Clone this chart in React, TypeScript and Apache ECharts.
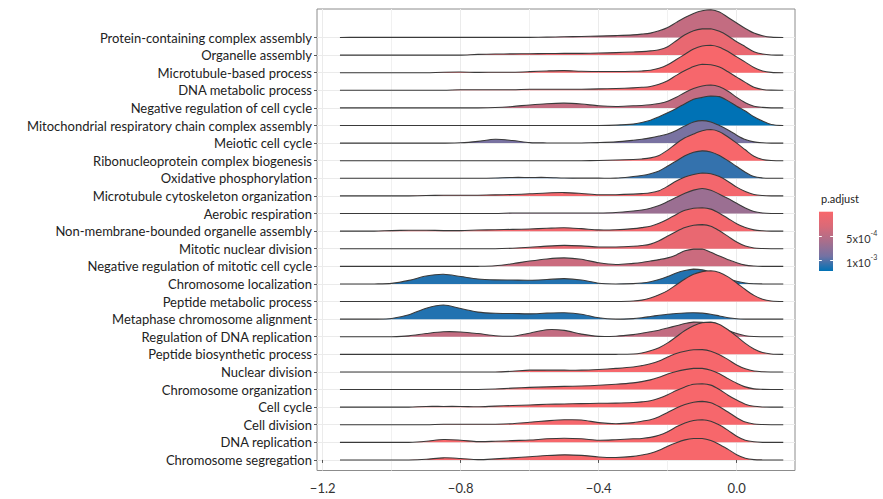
import React, { useEffect, useRef } from 'react';
import * as echarts from 'echarts';

// Categories, bottom row first (index = ridge baseline on the y scale)
const categories = [
  'Chromosome segregation',
  'DNA replication',
  'Cell division',
  'Cell cycle',
  'Chromosome organization',
  'Nuclear division',
  'Peptide biosynthetic process',
  'Regulation of DNA replication',
  'Metaphase chromosome alignment',
  'Peptide metabolic process',
  'Chromosome localization',
  'Negative regulation of mitotic cell cycle',
  'Mitotic nuclear division',
  'Non-membrane-bounded organelle assembly',
  'Aerobic respiration',
  'Microtubule cytoskeleton organization',
  'Oxidative phosphorylation',
  'Ribonucleoprotein complex biogenesis',
  'Meiotic cell cycle',
  'Mitochondrial respiratory chain complex assembly',
  'Negative regulation of cell cycle',
  'DNA metabolic process',
  'Microtubule-based process',
  'Organelle assembly',
  'Protein-containing complex assembly',
];

// adjusted p-value per category (same order)
const pAdjust = [
  1e-5, 1e-5, 2e-5, 1e-5, 1e-5, 2e-5, 1e-5, 4.5e-4, 1.15e-3, 1e-5, 1.15e-3, 4e-4, 1.5e-4,
  5e-5, 7e-4, 5e-5, 1.1e-3, 1e-5, 9e-4, 1.24e-3, 4.5e-4, 2e-5, 1e-5, 1.5e-4, 4.5e-4,
];

// x positions (log fold change) at which ridge heights were read
const xGrid = [
  -1.15, -1.1, -1.05, -1.0, -0.95, -0.9, -0.85, -0.8, -0.75, -0.7, -0.65, -0.6, -0.55, -0.5,
  -0.45, -0.4, -0.35, -0.3, -0.275, -0.25, -0.225, -0.2, -0.175, -0.15, -0.125, -0.1, -0.075,
  -0.05, -0.025, 0, 0.025, 0.05, 0.075, 0.1, 0.135,
];

// ridge heights (in row units) at xGrid, one array per category
const hChrSegregation = [0,0,0,0,0,0.04,0.12,0.08,0.02,0.06,0.12,0.18,0.25,0.29,0.26,0.17,0.14,0.2,0.28,0.38,0.55,0.78,0.98,1.14,1.22,1.22,1.1,0.88,0.6,0.3,0.1,0.02,0,0,0];
const hDnaReplication = [0,0,0,0,0,0.06,0.16,0.12,0.04,0.06,0.1,0.13,0.2,0.23,0.2,0.12,0.15,0.2,0.22,0.28,0.4,0.6,0.88,1.1,1.24,1.28,1.2,0.98,0.68,0.35,0.12,0.03,0,0,0];
const hCellDivision = [0,0,0,0,0,0,0.03,0.03,0.03,0.03,0.06,0.14,0.22,0.28,0.27,0.12,0.06,0.12,0.2,0.28,0.45,0.7,0.95,1.15,1.28,1.33,1.25,1.02,0.72,0.4,0.15,0.04,0.01,0,0];
const hCellCycle = [0,0,0,0,0,0.04,0.04,0.04,0.02,0.06,0.09,0.12,0.16,0.18,0.2,0.22,0.23,0.26,0.3,0.36,0.5,0.7,0.95,1.15,1.3,1.33,1.25,1.0,0.68,0.4,0.17,0.05,0.01,0,0];
const hChrOrganization = [0,0,0,0,0,0,0,0,0,0.03,0.08,0.12,0.15,0.18,0.2,0.24,0.3,0.38,0.45,0.55,0.7,0.88,1.02,1.13,1.2,1.2,1.1,0.9,0.62,0.36,0.15,0.04,0.01,0,0];
const hNuclearDivision = [0,0,0,0,0,0,0,0,0,0,0.04,0.1,0.1,0.1,0.1,0.14,0.2,0.28,0.36,0.46,0.62,0.85,1.05,1.18,1.26,1.27,1.18,0.98,0.7,0.4,0.18,0.05,0.01,0,0];
const hPeptideBiosynthetic = [0,0,0,0,0,0,0,0,0,0,0,0,0,0,0,0,0,0.02,0.08,0.2,0.38,0.65,1.0,1.35,1.62,1.8,1.83,1.7,1.4,1.02,0.62,0.3,0.1,0.02,0];
const hRegDnaReplication = [0,0,0,0,0.05,0.18,0.28,0.27,0.18,0.06,0.03,0.2,0.4,0.36,0.15,0.02,0.03,0.12,0.2,0.28,0.37,0.5,0.62,0.75,0.83,0.82,0.72,0.55,0.35,0.18,0.06,0.01,0,0,0];
const hMetaphaseAlignment = [0,0,0,0.04,0.25,0.62,0.8,0.6,0.4,0.33,0.32,0.3,0.34,0.36,0.28,0.08,0,0.03,0.08,0.15,0.22,0.28,0.32,0.35,0.36,0.34,0.28,0.18,0.08,0.02,0,0,0,0,0];
const hPeptideMetabolic = [0,0,0,0,0,0,0,0,0,0,0,0,0,0,0,0,0,0.03,0.08,0.2,0.38,0.62,0.95,1.28,1.55,1.7,1.75,1.65,1.4,1.05,0.68,0.35,0.13,0.03,0];
const hChrLocalization = [0,0,0,0.03,0.2,0.45,0.55,0.42,0.28,0.23,0.22,0.21,0.25,0.3,0.22,0.04,0,0.02,0.05,0.12,0.25,0.42,0.62,0.76,0.84,0.8,0.66,0.48,0.3,0.15,0.05,0.01,0,0,0];
const hNegRegMitotic = [0,0,0,0,0,0,0,0,0,0.03,0.15,0.3,0.42,0.48,0.4,0.2,0.1,0.17,0.22,0.3,0.38,0.48,0.65,0.88,0.98,0.98,0.8,0.58,0.38,0.2,0.07,0.02,0,0,0];
const hMitoticNuclear = [0,0,0,0,0,0,0,0,0,0,0.03,0.08,0.15,0.19,0.16,0.1,0.1,0.14,0.18,0.26,0.45,0.72,0.98,1.2,1.33,1.37,1.28,1.02,0.7,0.38,0.15,0.04,0.01,0,0];
const hNonMembrane = [0,0,0,0.03,0.05,0.05,0.03,0.03,0.06,0.08,0.1,0.12,0.16,0.19,0.14,0.07,0.08,0.14,0.2,0.28,0.45,0.68,0.95,1.18,1.3,1.33,1.25,1.02,0.72,0.42,0.2,0.07,0.02,0,0];
const hAerobic = [0,0,0,0,0,0,0,0,0,0,0.03,0.03,0.03,0.03,0.03,0.03,0.06,0.14,0.2,0.3,0.45,0.68,0.92,1.15,1.33,1.42,1.32,1.1,0.85,0.58,0.32,0.12,0.03,0,0];
const hMicrotubuleCytoskeleton = [0,0,0,0,0,0.02,0.04,0.04,0.04,0.06,0.08,0.12,0.17,0.19,0.14,0.07,0.07,0.1,0.13,0.18,0.3,0.55,0.85,1.08,1.22,1.3,1.26,1.1,0.82,0.5,0.25,0.08,0.02,0,0];
const hOxidativePhos = [0,0,0,0,0,0,0,0,0,0.02,0.05,0.05,0.05,0.02,0.01,0.01,0.01,0.1,0.16,0.26,0.42,0.7,0.98,1.28,1.48,1.56,1.5,1.3,1.0,0.67,0.35,0.1,0.02,0,0];
const hRibonucleoprotein = [0,0,0,0,0,0,0,0,0,0,0,0,0,0,0,0.01,0.04,0.07,0.1,0.16,0.3,0.6,0.98,1.3,1.52,1.7,1.77,1.65,1.35,1.0,0.62,0.25,0.07,0.01,0];
const hMeiotic = [0,0,0,0,0,0,0,0.02,0.1,0.22,0.15,0.03,0.01,0.01,0.01,0.03,0.07,0.16,0.22,0.3,0.4,0.52,0.72,0.98,1.2,1.28,1.2,1.0,0.75,0.45,0.2,0.07,0.02,0,0];
const hMitochondrialChain = [0,0,0,0,0,0,0,0,0,0,0,0,0,0,0,0,0.02,0.08,0.17,0.3,0.5,0.72,0.97,1.24,1.49,1.6,1.68,1.64,1.4,1.1,0.82,0.5,0.25,0.06,0];
const hNegRegCellCycle = [0,0,0,0,0,0,0,0,0,0.02,0.08,0.17,0.24,0.27,0.22,0.12,0.08,0.12,0.14,0.18,0.25,0.38,0.6,0.88,1.1,1.25,1.3,1.2,0.95,0.6,0.3,0.1,0.03,0,0];
const hDnaMetabolic = [0,0,0,0,0,0,0,0.03,0.03,0.03,0.03,0.06,0.06,0.06,0.06,0.08,0.1,0.14,0.17,0.22,0.35,0.55,0.85,1.12,1.35,1.48,1.45,1.32,1.05,0.75,0.45,0.17,0.05,0.01,0];
const hMicrotubuleBased = [0,0,0,0,0,0,0.03,0.04,0.02,0.03,0.03,0.06,0.1,0.12,0.08,0.07,0.07,0.08,0.1,0.14,0.25,0.45,0.75,1.05,1.35,1.52,1.56,1.45,1.2,0.9,0.6,0.3,0.1,0.02,0];
const hOrganelleAssembly = [0,0,0,0,0,0,0,0,0.04,0.06,0.07,0.08,0.09,0.1,0.1,0.12,0.14,0.18,0.2,0.24,0.3,0.48,0.82,1.16,1.39,1.49,1.5,1.35,1.09,0.76,0.48,0.19,0.06,0.01,0];
const hProteinComplex = [0,0.01,0.01,0.01,0.01,0.01,0.01,0.01,0.01,0.01,0.01,0.01,0.02,0.04,0.06,0.08,0.11,0.15,0.19,0.25,0.38,0.57,0.86,1.14,1.37,1.52,1.58,1.45,1.14,0.82,0.51,0.25,0.1,0.02,0];

const ridgeHeights = [
  hChrSegregation, hDnaReplication, hCellDivision, hCellCycle, hChrOrganization,
  hNuclearDivision, hPeptideBiosynthetic, hRegDnaReplication, hMetaphaseAlignment,
  hPeptideMetabolic, hChrLocalization, hNegRegMitotic, hMitoticNuclear, hNonMembrane,
  hAerobic, hMicrotubuleCytoskeleton, hOxidativePhos, hRibonucleoprotein, hMeiotic,
  hMitochondrialChain, hNegRegCellCycle, hDnaMetabolic, hMicrotubuleBased,
  hOrganelleAssembly, hProteinComplex,
];

const xTickValues = [-1.2, -0.8, -0.4, 0.0];
const legendTickValues = [5e-4, 1e-3];
const legendTickBases = ['5x10', '1x10'];
const legendTickExps = ['-4', '-3'];
const pMin = 0;
const pMax = 1.24e-3;
const fillStops = ['#F8676B', '#D96A78', '#A96E8C', '#7472A3', '#0072B5'];

// layout
const PANEL_LEFT = 317;
const PANEL_TOP = 9;
const PANEL_W = 478;
const PANEL_H = 461.5;
const X_MIN = -1.2165;
const X_MAX = 0.169;
const Y_MIN = -0.6;
const Y_MAX = 25.62;
const FONT = 'Lato, "Open Sans", sans-serif';

export default function App() {
  const ref = useRef<HTMLDivElement>(null);

  useEffect(() => {
    if (!ref.current) return;
    const chart = echarts.init(ref.current, undefined, { renderer: 'svg' });

    const pxPerRow = PANEL_H / (Y_MAX - Y_MIN);
    const labelTop = PANEL_TOP + (Y_MAX - (categories.length - 1)) * pxPerRow;
    const labelBottomEdge = PANEL_TOP + (Y_MAX - 0) * pxPerRow;
    const labelH = labelBottomEdge - labelTop;

    // legend colourbar geometry
    const barX = 819;
    const barY = 211.7;
    const barW = 14;
    const barH = 59.3;
    const pToY = (p: number) => barY + ((p - pMin) / (pMax - pMin)) * barH;

    const legendGraphics: any[] = [
      {
        type: 'text',
        left: 821,
        top: 193,
        style: { text: 'p.adjust', fill: '#222', font: `11px ${FONT}` },
      },
      {
        type: 'rect',
        shape: { x: barX, y: barY, width: barW, height: barH },
        style: {
          fill: new echarts.graphic.LinearGradient(
            0, 0, 0, 1,
            fillStops.map((c, i) => ({ offset: i / (fillStops.length - 1), color: c }))
          ),
        },
      },
    ];
    legendTickValues.forEach((v, i) => {
      const y = Math.round(pToY(v)) + 0.5;
      legendGraphics.push(
        { type: 'line', shape: { x1: barX, y1: y, x2: barX + 2.8, y2: y }, style: { stroke: '#fff', lineWidth: 1 } },
        { type: 'line', shape: { x1: barX + barW - 2.8, y1: y, x2: barX + barW, y2: y }, style: { stroke: '#fff', lineWidth: 1 } },
        {
          type: 'text',
          x: 846,
          y: y - 7,
          style: {
            text: `{b|${legendTickBases[i]}}{e|${legendTickExps[i]}}`,
            rich: {
              b: { fontSize: 11, fontFamily: FONT, fill: '#333', lineHeight: 14, verticalAlign: 'bottom' },
              e: { fontSize: 7, fontFamily: FONT, fill: '#333', lineHeight: 14, verticalAlign: 'top' },
            },
          },
        }
      );
    });

    // draw top rows first so lower ridges overlap them
    const seriesData = categories
      .map((_, i) => [0, i, pAdjust[i]])
      .reverse();

    const fmt = (v: number) => {
      const s = Math.abs(v).toFixed(1);
      return v < -1e-9 ? '\u2212' + s : s;
    };

    chart.setOption({
      animation: false,
      backgroundColor: '#fff',
      grid: [
        {
          left: PANEL_LEFT,
          top: PANEL_TOP,
          width: PANEL_W,
          height: PANEL_H,
          show: true,
          backgroundColor: '#fff',
          borderColor: '#8c8c8c',
          borderWidth: 1,
          outerBoundsMode: 'none',
        },
        {
          left: PANEL_LEFT,
          top: labelTop,
          width: PANEL_W,
          height: labelH,
          show: false,
          outerBoundsMode: 'none',
        },
      ],
      xAxis: [
        {
          type: 'value',
          gridIndex: 0,
          min: X_MIN,
          max: X_MAX,
          minInterval: 0.4,
          maxInterval: 0.4,
          axisLine: { show: false },
          axisTick: { show: true, length: 3, lineStyle: { color: '#555' }, customValues: xTickValues },
          axisLabel: {
            show: true,
            margin: 11,
            color: '#333',
            fontSize: 13,
            fontFamily: FONT,
            customValues: xTickValues,
            formatter: (v: number) => {
              const k = Math.round(v / 0.4);
              return Math.abs(v - k * 0.4) < 1e-6 && v > -1.21 && v < 0.01 ? fmt(v) : '';
            },
          },
          splitLine: { show: true, lineStyle: { color: '#ebebeb', width: 1 } },
          minorTick: { show: false, splitNumber: 2 },
          minorSplitLine: { show: true, lineStyle: { color: '#f1f1f1', width: 1 } },
        },
        { type: 'value', gridIndex: 1, min: 0, max: 1, show: false },
      ],
      yAxis: [
        { type: 'value', gridIndex: 0, min: Y_MIN, max: Y_MAX, show: false },
        {
          type: 'category',
          gridIndex: 1,
          data: categories,
          boundaryGap: false,
          axisLine: { show: false },
          axisTick: { show: true, length: 3, lineStyle: { color: '#555' } },
          axisLabel: {
            interval: 0,
            margin: 5,
            color: '#222',
            fontSize: 13,
            fontFamily: FONT,
          },
          splitLine: { show: true, interval: 0, lineStyle: { color: '#ebebeb', width: 1 } },
        },
      ],
      visualMap: {
        type: 'continuous',
        show: false,
        min: pMin,
        max: pMax,
        dimension: 2,
        seriesIndex: 0,
        inRange: { color: fillStops },
      },
      graphic: legendGraphics,
      series: [
        {
          type: 'custom',
          xAxisIndex: 0,
          yAxisIndex: 0,
          clip: false,
          encode: { x: 0, y: 1 },
          data: seriesData,
          renderItem: (params: any, api: any) => {
            const row = api.value(1) as number;
            const h = ridgeHeights[row];
            const pts = xGrid.map((x, k) => api.coord([x, row + h[k]]));
            const base = api.coord([xGrid[0], row])[1];
            let minY = base;
            pts.forEach((p: number[]) => { if (p[1] < minY) minY = p[1]; });
            const constraint = [[pts[0][0], minY], [pts[pts.length - 1][0], base]];
            const color = api.visual('color');
            return {
              type: 'group',
              children: [
                {
                  type: 'polygon',
                  shape: { points: pts, smooth: 0.3, smoothConstraint: constraint },
                  style: { fill: color, stroke: 'none' },
                },
                {
                  type: 'polyline',
                  shape: { points: pts, smooth: 0.3, smoothConstraint: constraint },
                  style: { stroke: '#3a3a3a', lineWidth: 1.1, fill: 'none' },
                },
              ],
            };
          },
        },
      ],
    });

    return () => chart.dispose();
  }, []);

  return (
    <div
      ref={ref}
      style={{ position: 'fixed', left: 0, top: 0, width: 883, height: 499, background: '#fff' }}
    />
  );
}
